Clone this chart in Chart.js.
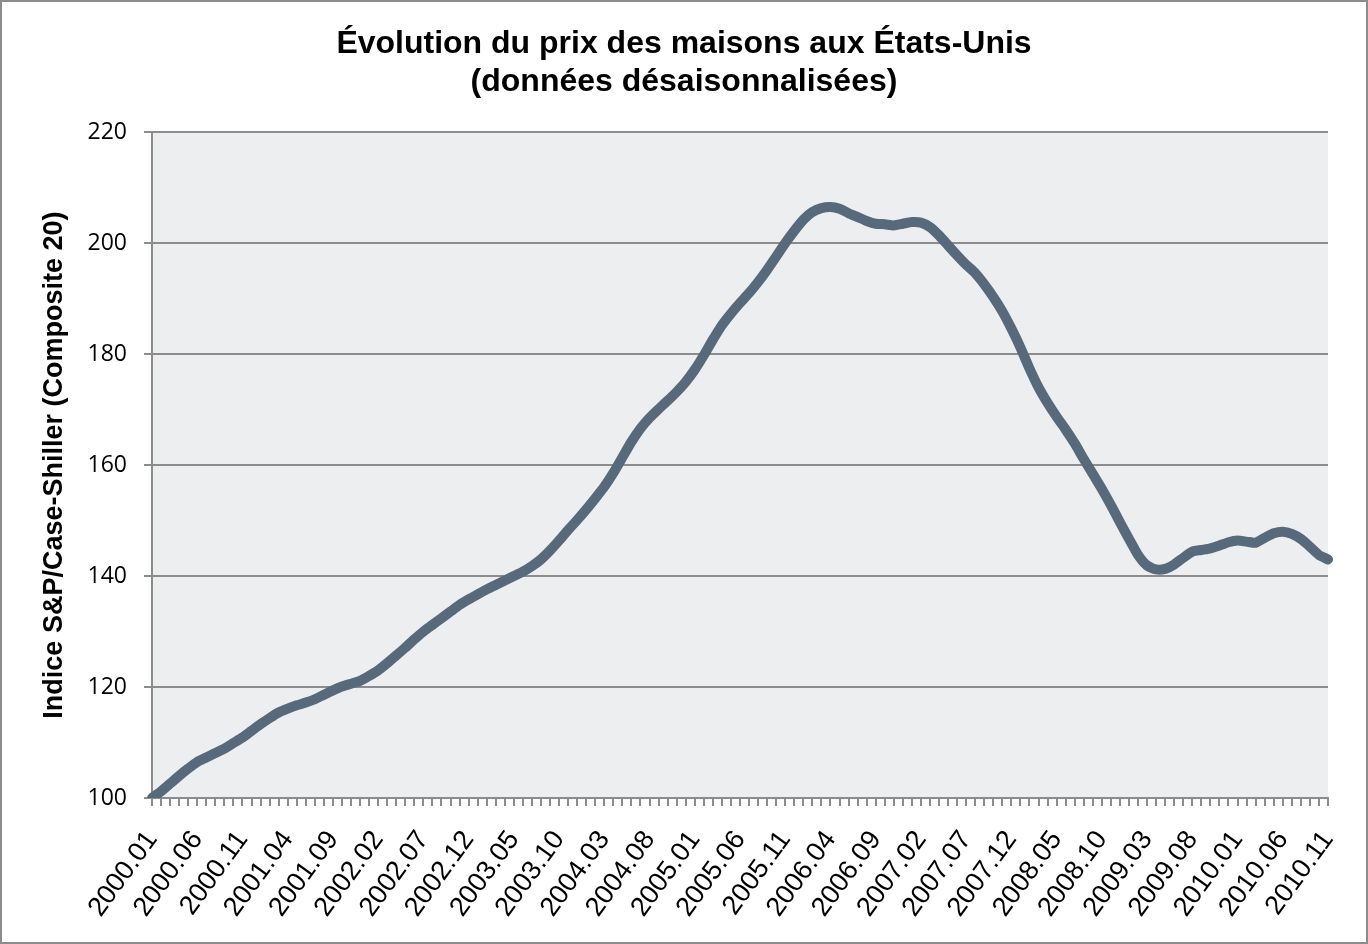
<!DOCTYPE html>
<html>
<head>
<meta charset="utf-8">
<script src="https://cdn.jsdelivr.net/npm/chart.js@4.4.1/dist/chart.umd.min.js"></script>
<style>
  body { margin: 0; background: #fff; }
  canvas { display: block; }
</style>
</head>
<body>
<canvas id="myChart" width="1368" height="944"></canvas>
<script>
const years = ['2000', '2001', '2002', '2003', '2004', '2005', '2006', '2007', '2008', '2009', '2010']
const monthNames = ['01', '02', '03', '04', '05', '06', '07', '08', '09', '10', '11', '12']

// 2000.01 .. 2010.11
const labels = []
years.forEach(y => monthNames.forEach(m => labels.push(y + '.' + m)))
labels.splice(131)

const yTicks = [100, 120, 140, 160, 180, 200, 220]

const caseShiller = [
  100.0, 101.2, 102.6, 104.0, 105.3, 106.5, 107.3, 108.1, 108.9, 109.9, 110.9, 112.1,
  113.3, 114.4, 115.4, 116.1, 116.7, 117.2, 117.8, 118.6, 119.4, 120.1, 120.6, 121.1,
  122.0, 123.0, 124.3, 125.7, 127.1, 128.6, 130.0, 131.2, 132.4, 133.6, 134.8, 135.8,
  136.7, 137.6, 138.4, 139.2, 140.0, 140.8, 141.8, 143.0, 144.6, 146.4, 148.3, 150.1,
  152.0, 154.0, 156.1, 158.6, 161.4, 164.2, 166.6, 168.5, 170.1, 171.6, 173.2, 175.0,
  177.2, 179.8, 182.6, 185.2, 187.3, 189.2, 191.0, 193.0, 195.2, 197.6, 200.0, 202.2,
  204.2, 205.6, 206.3, 206.5, 206.2, 205.4, 204.7, 204.0, 203.5, 203.4, 203.2, 203.5,
  203.8, 203.7, 202.9, 201.4, 199.6, 197.8, 196.1, 194.6, 192.6, 190.3, 187.7, 184.6,
  181.2, 177.4, 174.0, 171.2, 168.7, 166.4, 163.9, 161.1, 158.4, 155.7, 152.8, 149.7,
  146.7, 143.8, 141.9, 141.2, 141.3, 142.1, 143.3, 144.4, 144.7, 145.0, 145.5, 146.1,
  146.4, 146.2, 146.0, 146.9, 147.7, 148.0, 147.6, 146.7, 145.3, 143.8, 143.0
]

const gridGrey = '#8c8c8c'

const backdrop = {
  id: 'backdrop',
  beforeDraw(chart) {
    const c = chart.ctx
    const a = chart.chartArea
    c.save()
    c.fillStyle = '#ffffff'
    c.fillRect(0, 0, chart.width, chart.height)
    c.fillStyle = '#edeef0'
    c.fillRect(a.left, a.top, a.right - a.left, a.bottom - a.top)
    c.strokeStyle = gridGrey
    c.lineWidth = 2
    c.strokeRect(1, 1, chart.width - 2, chart.height - 2)
    c.restore()
  }
}

const ctx = document.getElementById('myChart')

new Chart(ctx, {
  type: 'line',
  data: {
    labels: labels,
    datasets: [{
      data: caseShiller,
      borderColor: '#576a7b',
      borderWidth: 10,
      borderCapStyle: 'round',
      borderJoinStyle: 'round',
      pointRadius: 0,
      tension: 0.2
    }]
  },
  options: {
    responsive: false,
    animation: false,
    devicePixelRatio: 1,
    layout: { padding: 0 },
    plugins: {
      legend: { display: false },
      tooltip: { enabled: false },
      title: {
        display: true,
        text: ['Évolution du prix des maisons aux États-Unis', '(données désaisonnalisées)'],
        color: '#000',
        font: { family: 'Liberation Sans', size: 32, weight: 'bold', lineHeight: 1.19 },
        padding: { top: 25, bottom: 31 }
      }
    },
    scales: {
      x: {
        type: 'category',
        offset: false,
        grid: { drawOnChartArea: false, drawTicks: true, tickLength: 8, color: gridGrey, lineWidth: 2 },
        border: { display: true, color: gridGrey, width: 2 },
        ticks: {
          autoSkip: false,
          minRotation: 54,
          maxRotation: 54,
          padding: 19,
          color: '#000',
          font: { family: 'Liberation Sans', size: 27 },
          callback: function (v, i) { return i % 5 === 0 ? this.getLabelForValue(v) : '' }
        },
        afterFit(s) {
          s.height = 146
          s.paddingLeft = 0
          s.paddingRight = 0
        }
      },
      y: {
        min: yTicks[0],
        max: yTicks[yTicks.length - 1],
        afterBuildTicks(s) { s.ticks = yTicks.map(v => ({ value: v })) },
        grid: { color: gridGrey, lineWidth: 2, tickLength: 8 },
        border: { display: true, color: gridGrey, width: 2 },
        ticks: {
          padding: 17,
          color: '#000',
          font: { family: 'Open Sans', size: 23 }
        },
        title: {
          display: true,
          text: 'Indice S&P/Case-Shiller (Composite 20)',
          color: '#000',
          font: { family: 'Liberation Sans', size: 27, weight: 'bold' },
          padding: { top: 38, bottom: 0 }
        },
        afterFit(s) { s.width = 152 }
      },
      // empty strip on the right so the title stays centred on the page
      spacer: {
        position: 'right',
        grid: { display: false },
        border: { display: false },
        ticks: { display: false },
        afterFit(s) { s.width = 40 }
      }
    }
  },
  plugins: [backdrop]
})
</script>
</body>
</html>
